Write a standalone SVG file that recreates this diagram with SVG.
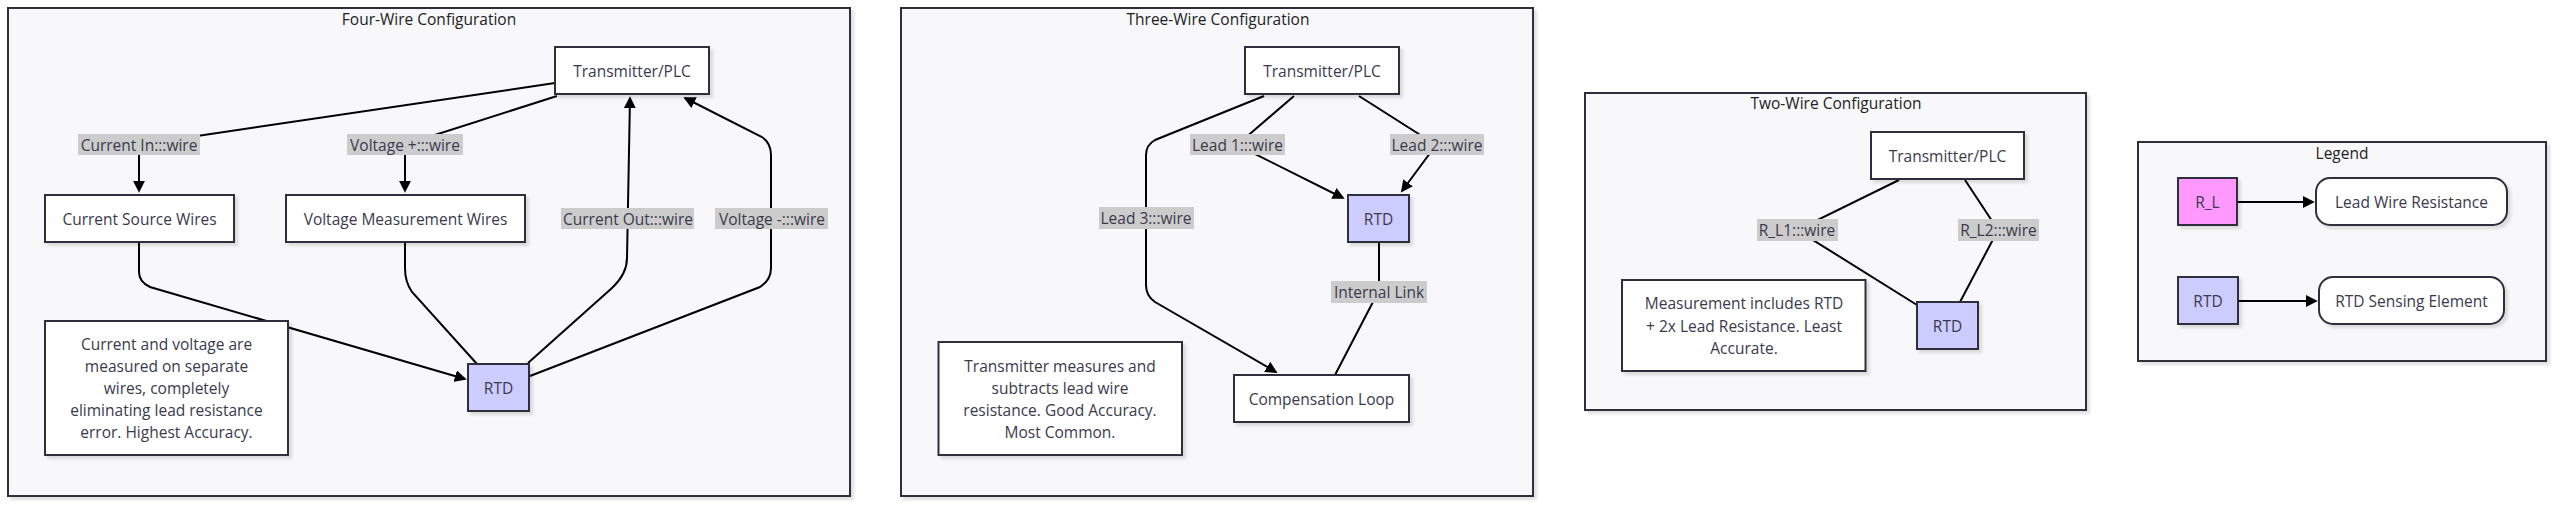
<svg xmlns="http://www.w3.org/2000/svg" width="2560" height="505" viewBox="0 0 2560 505">
<style>
text{font-family:"Open Sans","Noto Sans","Liberation Sans",sans-serif;font-size:15.5px;fill:#3a3a4c;text-anchor:middle;dominant-baseline:central}
.cl{fill:#f8f8fa;stroke:#2e2e3e;stroke-width:2}
.nd{fill:#ffffff;stroke:#2e2e3e;stroke-width:2}
.rtd{fill:#ccccff;stroke:#2e2e3e;stroke-width:2}
.rl{fill:#ff99ff;stroke:#2e2e3e;stroke-width:2}
.lb{fill:#cccccc;stroke:none}
.e{fill:none;stroke:#000;stroke-width:2}
.ttl{font-size:15.5px;fill:#222}
</style>
<defs>
<marker id="ah" viewBox="0 0 10 10" refX="8.5" refY="5" markerWidth="12" markerHeight="12" markerUnits="userSpaceOnUse" orient="auto">
<path d="M0,0 L10,5 L0,10 z" fill="#000"/>
</marker>
<filter id="sh" x="-10%" y="-10%" width="130%" height="130%">
<feDropShadow dx="3" dy="3" stdDeviation="1.5" flood-color="#000" flood-opacity="0.12"/>
</filter>
</defs>

<g id="clusters">
<g id="four-wire"><rect class="cl" x="8" y="8" width="842" height="488" filter="url(#sh)"/><text class="ttl" x="429" y="19">Four-Wire Configuration</text></g>
<g id="three-wire"><rect class="cl" x="901" y="8" width="632" height="488" filter="url(#sh)"/><text class="ttl" x="1218" y="19">Three-Wire Configuration</text></g>
<g id="two-wire"><rect class="cl" x="1585" y="93" width="501" height="317" filter="url(#sh)"/><text class="ttl" x="1836" y="103">Two-Wire Configuration</text></g>
<g id="legend"><rect class="cl" x="2138" y="142" width="408" height="219" filter="url(#sh)"/><text class="ttl" x="2342" y="153">Legend</text></g>
</g>

<g id="connectors">
<path class="e" d="M555,83 L150,143 Q139,145 139,156 L139,191" marker-end="url(#ah)"/>
<path class="e" d="M557,96 L416,141 Q405,145 405,156 L405,191" marker-end="url(#ah)"/>
<path class="e" d="M528,363 L612,288 Q627,274 627,258 L630,98" marker-end="url(#ah)"/>
<path class="e" d="M530,376 L760,287 Q771,280 771,268 L771,155 Q771,143 762,137 L685,98" marker-end="url(#ah)"/>
<path class="e" d="M139,242 L139,272 Q139,282 150,287 L465,379" marker-end="url(#ah)"/>
<path class="e" d="M405,242 L405,268 Q405,282 412,292 L477,364"/>

<path class="e" d="M1294,96 L1237,145 L1343,198" marker-end="url(#ah)"/>
<path class="e" d="M1359,96 L1436,145 L1402,191" marker-end="url(#ah)"/>
<path class="e" d="M1264,96 L1155,140 Q1146,145 1146,155 L1146,285 Q1146,296 1155,302 L1276,372" marker-end="url(#ah)"/>
<path class="e" d="M1379,242 L1379,280 Q1379,290 1374,300 L1335,375"/>

<path class="e" d="M1899,180 L1797,230 L1917,305"/>
<path class="e" d="M1965,180 L1998,230 L1960,302"/>

<path class="e" d="M2237,202 L2313,202" marker-end="url(#ah)"/>
<path class="e" d="M2238,301 L2316,301" marker-end="url(#ah)"/>

<g id="edge-labels">
<rect class="lb" x="78" y="134" width="122" height="21"/><text x="139" y="145">Current In:::wire</text>
<rect class="lb" x="347" y="134" width="116" height="21"/><text x="405" y="145">Voltage +:::wire</text>
<rect class="lb" x="561" y="208" width="133" height="21"/><text x="628" y="218.5">Current Out:::wire</text>
<rect class="lb" x="715" y="208" width="113" height="21"/><text x="772" y="218.5">Voltage -:::wire</text>
<rect class="lb" x="1190" y="134" width="95" height="21"/><text x="1237.5" y="145">Lead 1:::wire</text>
<rect class="lb" x="1390" y="134" width="94" height="21"/><text x="1437" y="145">Lead 2:::wire</text>
<rect class="lb" x="1099" y="207" width="95" height="22"/><text x="1146" y="218">Lead 3:::wire</text>
<rect class="lb" x="1331" y="281" width="96" height="22"/><text x="1379" y="292">Internal Link</text>
<rect class="lb" x="1757" y="219" width="81" height="22"/><text x="1797" y="230">R_L1:::wire</text>
<rect class="lb" x="1958" y="219" width="81" height="22"/><text x="1998.5" y="230">R_L2:::wire</text>
</g>
</g>

<g id="nodes">
<g id="fw-plc"><rect class="nd" x="555" y="47" width="154" height="47" filter="url(#sh)"/><text x="632" y="71">Transmitter/PLC</text></g>
<g id="fw-cs"><rect class="nd" x="45" y="195" width="189" height="47" filter="url(#sh)"/><text x="139.5" y="218.5">Current Source Wires</text></g>
<g id="fw-vm"><rect class="nd" x="286" y="195" width="239" height="47" filter="url(#sh)"/><text x="405.5" y="218.5">Voltage Measurement Wires</text></g>
<g id="fw-rtd"><rect class="rtd" x="468" y="364" width="61" height="47" filter="url(#sh)"/><text x="498.5" y="387.5">RTD</text></g>
<g id="fw-note"><rect class="nd" x="45" y="321" width="243" height="134" filter="url(#sh)"/>
<text x="166.5" y="344">Current and voltage are</text>
<text x="166.5" y="366">measured on separate</text>
<text x="166.5" y="388">wires, completely</text>
<text x="166.5" y="410">eliminating lead resistance</text>
<text x="166.5" y="432">error. Highest Accuracy.</text></g>

<g id="tw-plc"><rect class="nd" x="1245" y="47" width="154" height="47" filter="url(#sh)"/><text x="1322" y="71">Transmitter/PLC</text></g>
<g id="tw-rtd"><rect class="rtd" x="1348" y="195" width="61" height="47" filter="url(#sh)"/><text x="1378.5" y="218.5">RTD</text></g>
<g id="tw-comp"><rect class="nd" x="1234" y="375" width="175" height="47" filter="url(#sh)"/><text x="1321.5" y="398.5">Compensation Loop</text></g>
<g id="tw-note"><rect class="nd" x="938.5" y="342" width="243.5" height="113" filter="url(#sh)"/>
<text x="1060" y="366">Transmitter measures and</text>
<text x="1060" y="388">subtracts lead wire</text>
<text x="1060" y="410">resistance. Good Accuracy.</text>
<text x="1060" y="432">Most Common.</text></g>

<g id="two-plc"><rect class="nd" x="1871" y="132" width="153" height="47" filter="url(#sh)"/><text x="1947.5" y="155.5">Transmitter/PLC</text></g>
<g id="two-rtd"><rect class="rtd" x="1917" y="302" width="61" height="47" filter="url(#sh)"/><text x="1947.5" y="325.5">RTD</text></g>
<g id="two-note"><rect class="nd" x="1622" y="280" width="243.5" height="91" filter="url(#sh)"/>
<text x="1744" y="303">Measurement includes RTD</text>
<text x="1744" y="325.5">+ 2x Lead Resistance. Least</text>
<text x="1744" y="348">Accurate.</text></g>

<g id="lg-rl"><rect class="rl" x="2178" y="178" width="59" height="47" filter="url(#sh)"/><text x="2207.5" y="201.5">R_L</text></g>
<g id="lg-rl-desc"><rect class="nd" x="2316" y="178" width="191" height="47" rx="14" ry="14" filter="url(#sh)"/><text x="2411.5" y="201.5">Lead Wire Resistance</text></g>
<g id="lg-rtd"><rect class="rtd" x="2178" y="277" width="60" height="47" filter="url(#sh)"/><text x="2208" y="300.5">RTD</text></g>
<g id="lg-rtd-desc"><rect class="nd" x="2319" y="277" width="185" height="47" rx="14" ry="14" filter="url(#sh)"/><text x="2411.5" y="300.5">RTD Sensing Element</text></g>
</g>
</svg>
